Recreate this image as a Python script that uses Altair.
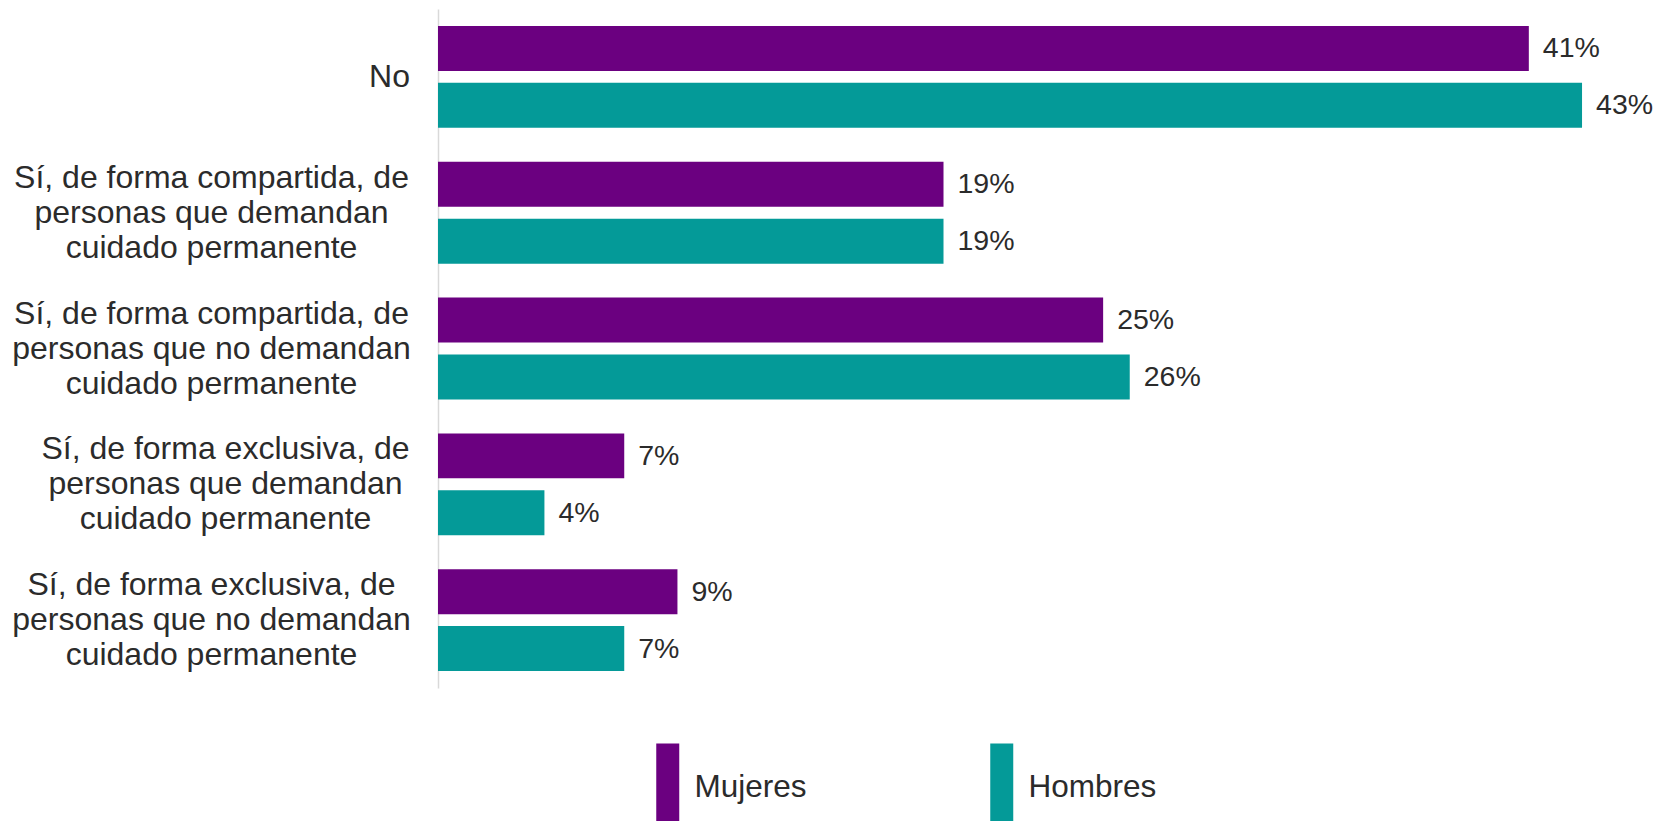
import altair as alt
import pandas as pd

categorias = [
    "No",
    "Sí, de forma compartida, de\npersonas que demandan\ncuidado permanente",
    "Sí, de forma compartida, de\npersonas que no demandan\ncuidado permanente",
    "Sí, de forma exclusiva, de\npersonas que demandan\ncuidado permanente",
    "Sí, de forma exclusiva, de\npersonas que no demandan\ncuidado permanente",
]
series = ["Mujeres", "Hombres"]
mujeres = [41, 19, 25, 7, 9]
hombres = [43, 19, 26, 4, 7]

colores = ["#6B0080", "#049A98"]
texto = "#2b2b2b"
fuente = "Liberation Sans"

rows = []
for c, m, h in zip(categorias, mujeres, hombres):
    rows.append({"categoria": c, "sexo": "Mujeres", "valor": m, "etiqueta": f"{m}%"})
    rows.append({"categoria": c, "sexo": "Hombres", "valor": h, "etiqueta": f"{h}%"})
df = pd.DataFrame(rows)

label_pad = {
    "condition": [
        {"test": "datum.value == 'No'", "value": 49},
        {"test": "indexof(datum.value, 'exclusiva') >= 0 && indexof(datum.value, 'que demandan') >= 0", "value": 213},
    ],
    "value": 227,
}
label_off = {
    "condition": [{"test": "datum.value == 'No'", "value": 0}],
    "value": -35,
}

base = alt.Chart(df).encode(
    y=alt.Y(
        "categoria:N",
        sort=categorias,
        title=None,
        scale=alt.Scale(paddingInner=0.25, paddingOuter=0.125),
        axis=alt.Axis(
            ticks=False,
            domain=True,
            domainColor="#d9d9d9",
            domainWidth=1.5,
            labelExpr="split(datum.label, '\\n')",
            labelAlign="center",
            labelBaseline="middle",
            labelPadding=label_pad,
            labelOffset=label_off,
            labelFont=fuente,
            labelFontSize=32,
            labelLineHeight=35,
            labelColor=texto,
            labelLimit=600,
            grid=False,
        ),
    ),
    yOffset=alt.YOffset("sexo:N", sort=series, scale=alt.Scale(paddingInner=0.21)),
    x=alt.X("valor:Q", scale=alt.Scale(domain=[0, 43.6]), axis=None),
)

bars = base.mark_bar().encode(
    color=alt.Color(
        "sexo:N",
        sort=series,
        scale=alt.Scale(domain=series, range=colores),
        legend=alt.Legend(
            title=None,
            orient="none",
            legendX=214,
            legendY=763,
            direction="horizontal",
            symbolType="M-1.15,-4.45L1.15,-4.45L1.15,5.2L-1.15,5.2Z",
            symbolSize=400,
            symbolStrokeWidth=0,
            symbolOpacity=1,
            labelFont=fuente,
            labelFontSize=31.5,
            labelColor=texto,
            labelOffset=11,
            columnPadding=179,
        ),
    )
)

labels = base.mark_text(
    align="left", baseline="middle", dx=14, fontSize=28.5, font=fuente, color=texto
).encode(text="etiqueta:N")

chart = (
    alt.layer(bars, labels)
    .properties(
        width=1160,
        height=679,
        autosize=alt.AutoSizeParams(type="none"),
        padding={"left": 430, "top": 1, "right": 56, "bottom": 133},
    )
    .configure_view(stroke=None)
)

chart.save("out.html", embed_options={"renderer": "svg", "actions": False})
